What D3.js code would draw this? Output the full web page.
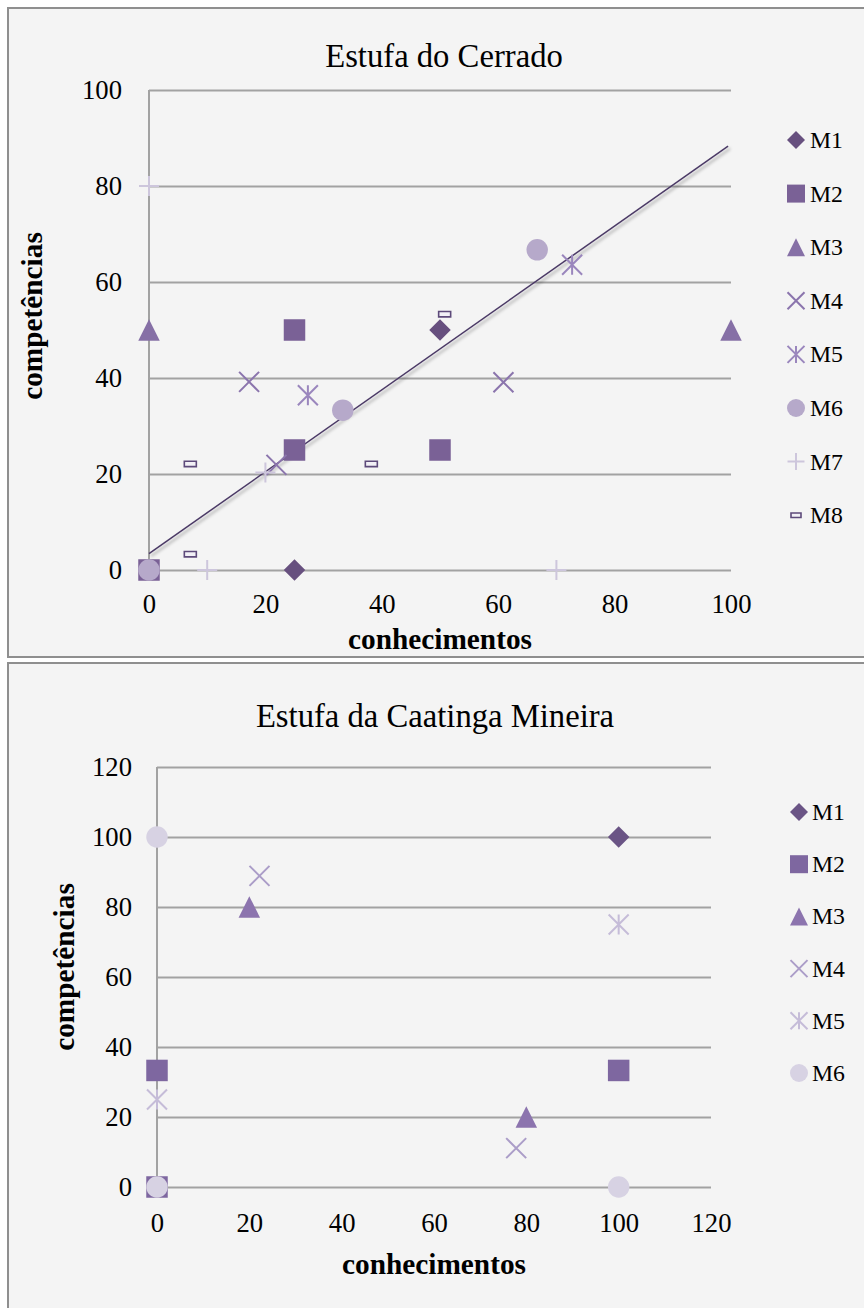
<!DOCTYPE html>
<html><head><meta charset="utf-8">
<script src="https://cdn.jsdelivr.net/npm/d3@7"></script>
<style>body{margin:0;background:#fff}</style>
</head><body><svg id="c" width="864" height="1308"></svg>
<script>
// ---------- DATA ----------
const cerradoTitle = "Estufa do Cerrado";
const cerradoSeries = ["M1","M2","M3","M4","M5","M6","M7","M8"];
const cerradoShapes = ["diamond","square","triangle","x","star","circle","plus","dash"];
const cerradoColors = ["#67507f","#7a6196","#8670a6","#8b75ad","#9a86bd","#b6a9ca","#cdc6dc","#5d4a7a"];
const cerradoX = [[0,25,50],[0,25,25,50],[0,100],[17.2,21.9,60.9],[27.3,72.7],[0,33.3,66.7],[0,10,20,70],[7.1,7.1,38.2,50.8]];
const cerradoY = [[0,0,50],[0,25,50,25],[50,50],[39.2,21.9,39.1],[36.4,63.6],[0,33.3,66.7],[80,0,20.3,0],[22.1,3.3,22.1,53.3]];
const cerradoTrendX = [0, 99.5];
const cerradoTrendY = [3.4, 88.3];
const cerradoXTicks = [0,20,40,60,80,100];
const cerradoYTicks = [0,20,40,60,80,100];

const caatingaTitle = "Estufa da Caatinga Mineira";
const caatingaSeries = ["M1","M2","M3","M4","M5","M6"];
const caatingaShapes = ["diamond","square","triangle","x","star","circle"];
const caatingaColors = ["#6a5485","#7e67a0","#8c74ae","#ab9dc8","#c5bcd8","#d7d2e3"];
const caatingaX = [[0,100],[0,0,100],[20,80],[22.2,77.8],[0,100],[0,0,100]];
const caatingaY = [[0,100],[0,33.3,33.3],[80,20],[88.9,11.1],[25,75],[0,100,0]];
const caatingaXTicks = [0,20,40,60,80,100,120];
const caatingaYTicks = [0,20,40,60,80,100,120];

const xLabel = "conhecimentos";
const yLabel = "competências";

// ---------- SETUP ----------
const FONT = "'Liberation Serif', 'Times New Roman', serif";
const svg = d3.select("#c");
const defs = svg.append("defs");
const f = defs.append("filter").attr("id","sh").attr("x","-10%").attr("y","-10%").attr("width","120%").attr("height","120%");
f.append("feDropShadow").attr("dx",2).attr("dy",2.5).attr("stdDeviation",1.5).attr("flood-color","#000").attr("flood-opacity",0.35);

function measure(txt, size, weight){
  const t = svg.append("text").attr("font-family",FONT).attr("font-size",size).attr("font-weight",weight||"normal").text(txt);
  const w = t.node().getComputedTextLength(); t.remove(); return w;
}
const tickFS = 20*40/measure("100",20);
const legFS = 20*33/measure("M1",20);
const titleFS = (20*244/measure(cerradoTitle,20) + 20*349/measure(caatingaTitle,20))/2;
const axFS = 20*184/measure(xLabel,20,"bold");

function markerPath(type, s){
  const h = s/2, p = d3.path();
  switch(type){
    case "diamond": p.moveTo(0,-h);p.lineTo(h,0);p.lineTo(0,h);p.lineTo(-h,0);p.closePath();break;
    case "square": p.rect(-h,-h,s,s);break;
    case "triangle": p.moveTo(0,-h);p.lineTo(h,h);p.lineTo(-h,h);p.closePath();break;
    case "x": p.moveTo(-h,-h);p.lineTo(h,h);p.moveTo(-h,h);p.lineTo(h,-h);break;
    case "star": p.moveTo(-h,-h);p.lineTo(h,h);p.moveTo(-h,h);p.lineTo(h,-h);p.moveTo(0,-h);p.lineTo(0,h);break;
    case "plus": p.moveTo(-h,0);p.lineTo(h,0);p.moveTo(0,-h);p.lineTo(0,h);break;
    case "circle": p.arc(0,0,h,0,2*Math.PI);p.closePath();break;
    case "dash": p.rect(-h,-h*0.45,s,s*0.45);break;
  }
  return p.toString();
}
const strokeShapes = new Set(["x","star","plus"]);
function styleMarker(sel, type, color){
  if(strokeShapes.has(type)) sel.attr("fill","none").attr("stroke",color).attr("stroke-width",2);
  else if(type==="dash") sel.attr("fill","#f2f0f6").attr("stroke",color).attr("stroke-width",1.6);
  else sel.attr("fill",color).attr("stroke","none");
}
function sizeOf(type, legend){
  if(type==="dash") return legend?10:12;
  if(strokeShapes.has(type)) return legend?17:20;
  return legend?18:21.5;
}

function drawChart(c){
  const g = svg.append("g");
  g.append("rect").attr("x",c.box[0]).attr("y",c.box[1]).attr("width",c.box[2]).attr("height",c.box[3])
    .attr("fill","#f4f4f4").attr("stroke","#8f8f8f").attr("stroke-width",2);
  const x = d3.scaleLinear().domain(c.xDomain).range([c.plot[0],c.plot[1]]);
  const y = d3.scaleLinear().domain(c.yDomain).range([c.plot[3],c.plot[2]]);
  // grid / y axis
  const ya = g.append("g").attr("transform",`translate(${c.plot[0]},0)`)
    .call(d3.axisLeft(y).tickValues(c.yTicks).tickSize(-(c.plot[1]-c.plot[0])).tickPadding(c.yPad).tickFormat(d3.format("d")));
  ya.select(".domain").remove();
  ya.selectAll(".tick line").attr("stroke","#a2a2a2").attr("stroke-width",2);
  ya.selectAll(".tick text").attr("font-family",FONT).attr("font-size",tickFS).attr("fill","#000");
  g.append("line").attr("x1",c.plot[0]).attr("x2",c.plot[0]).attr("y1",c.plot[2]).attr("y2",c.plot[3])
    .attr("stroke","#a2a2a2").attr("stroke-width",2);
  const xa = g.append("g").attr("transform",`translate(0,${c.plot[3]})`)
    .call(d3.axisBottom(x).tickValues(c.xTicks).tickSize(0).tickPadding(c.xPad).tickFormat(d3.format("d")));
  xa.select(".domain").remove();
  xa.selectAll(".tick text").attr("font-family",FONT).attr("font-size",tickFS).attr("fill","#000");
  // title
  g.append("text").attr("x",c.titlePos[0]).attr("y",c.titlePos[1]).attr("text-anchor","middle")
    .attr("font-family",FONT).attr("font-size",titleFS).text(c.title);
  g.append("text").attr("x",c.xLabPos[0]).attr("y",c.xLabPos[1]).attr("text-anchor","middle")
    .attr("font-family",FONT).attr("font-weight","bold").attr("font-size",axFS).text(xLabel);
  g.append("text").attr("transform",`translate(${c.yLabPos[0]},${c.yLabPos[1]}) rotate(-90)`).attr("text-anchor","middle")
    .attr("dominant-baseline","central").attr("font-family",FONT).attr("font-weight","bold").attr("font-size",axFS).text(yLabel);
  // trend
  if(c.trendX){
    g.append("line").attr("x1",x(c.trendX[0])).attr("y1",y(c.trendY[0])).attr("x2",x(c.trendX[1])).attr("y2",y(c.trendY[1]))
      .attr("stroke","#4b3a66").attr("stroke-width",1.5).attr("filter","url(#sh)");
  }
  // points
  c.series.forEach((name,i)=>{
    const pts = c.xs[i].map((v,j)=>({x:v,y:c.ys[i][j]}));
    const sg = g.append("g");
    sg.selectAll("path").data(pts).join("path")
      .attr("transform",d=>`translate(${x(d.x)},${y(d.y)})`)
      .attr("d",markerPath(c.shapes[i],sizeOf(c.shapes[i],false)))
      .call(s=>styleMarker(s,c.shapes[i],c.colors[i]));
  });
  // legend
  const lg = g.append("g");
  c.series.forEach((name,i)=>{
    const ly = c.leg[1] + i*c.leg[3];
    lg.append("path").attr("transform",`translate(${c.leg[0]},${ly})`)
      .attr("d",markerPath(c.shapes[i],sizeOf(c.shapes[i],true)))
      .call(s=>styleMarker(s,c.shapes[i],c.colors[i]));
    lg.append("text").attr("x",c.leg[2]).attr("y",ly).attr("dominant-baseline","central")
      .attr("font-family",FONT).attr("font-size",legFS).text(name);
  });
}

drawChart({
  box:[8,8,870,649], plot:[149,731,90,570], xDomain:[0,100], yDomain:[0,100],
  xTicks:cerradoXTicks, yTicks:cerradoYTicks, yPad:27, xPad:24,
  title:cerradoTitle, titlePos:[444,67], xLabPos:[440,649], yLabPos:[32,316],
  trendX:cerradoTrendX, trendY:cerradoTrendY,
  series:cerradoSeries, shapes:cerradoShapes, colors:cerradoColors, xs:cerradoX, ys:cerradoY,
  leg:[796,140,810,53.6]
});
drawChart({
  box:[8,663,870,660], plot:[157,711,767,1187], xDomain:[0,120], yDomain:[0,120],
  xTicks:caatingaXTicks, yTicks:caatingaYTicks, yPad:25, xPad:26,
  title:caatingaTitle, titlePos:[435,727], xLabPos:[434,1274], yLabPos:[64,967],
  series:caatingaSeries, shapes:caatingaShapes, colors:caatingaColors, xs:caatingaX, ys:caatingaY,
  leg:[799,812,812,52.2]
});
</script></body></html>
